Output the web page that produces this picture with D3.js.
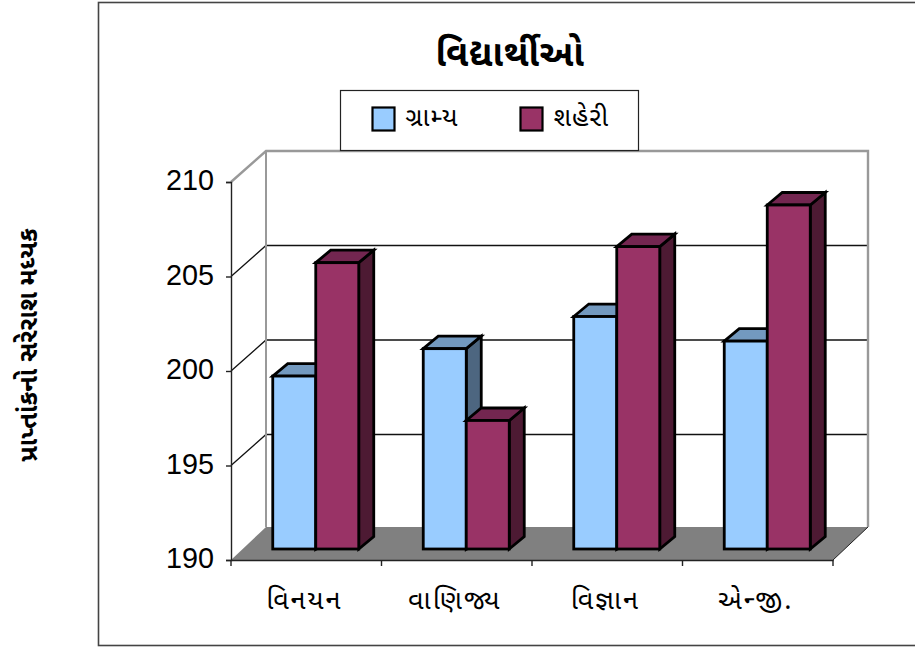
<!DOCTYPE html>
<html><head><meta charset="utf-8">
<script src="https://cdn.jsdelivr.net/npm/d3@7/dist/d3.min.js"></script>
<style>
html,body{margin:0;padding:0;background:#fff;overflow:hidden}
svg{display:block}
text{font-family:"Noto Sans Gujarati","Lohit Gujarati","Noto Sans","DejaVu Sans","Liberation Sans",sans-serif;fill:#000}
</style></head><body>
<svg id="c" width="915" height="647"></svg>
<script>
const titleText = "વિદ્યાર્થીઓ";
const yAxisTitle = "પ્રાપ્તાંકનો સરેરાશ મધ્યક";
const categories = ["વિનયન","વાણિજ્ય","વિજ્ઞાન","એન્જી."];
const seriesNames = ["ગ્રામ્ય","શહેરી"];
const gramyaValues = [199.15,200.6,202.3,201.0];
const shaheriValues = [205.15,196.8,206.0,208.2];
const yTicks = [190,195,200,205,210];
const seriesValues = [gramyaValues, shaheriValues];
const faceColors = [["#99ccff","#7399bf","#4d6680"],["#993366","#732650","#4d1a33"]];

const svg = d3.select("#c");
const x = d3.scaleBand().domain(categories).range([231,833]);
const y = d3.scaleLinear().domain([190,210]).range([560,182]);
const wall = {dx:35, dy:-33};
const barOff = {dx:9.5, dy:-11};
const barDepth = {dx:15, dy:-12.5};
const inner = d3.scaleBand().domain(d3.range(seriesNames.length)).range([-43,43]);
const poly = p => p.map(q=>q.join(",")).join(" ");

// chart frame
svg.append("rect").attr("x",98.5).attr("y",2.5).attr("width",830).attr("height",643)
  .attr("fill","#fff").attr("stroke","#444").attr("stroke-width",1.6);

const x0=x.range()[0], x1=x.range()[1], yB=y(190), yT=y(210);
// floor
svg.append("polygon").attr("points",poly([[x0,yB],[x1,yB],[x1+wall.dx,yB+wall.dy],[x0+wall.dx,yB+wall.dy]])).attr("fill","#808080");
// gridlines
yTicks.slice(1,-1).forEach(t=>{
  svg.append("polyline").attr("fill","none").attr("stroke","#111").attr("stroke-width",1.3)
    .attr("points",poly([[x0,y(t)],[x0+wall.dx,y(t)+wall.dy+2],[x1+wall.dx,y(t)+wall.dy+2]]));
});
// wall edges
svg.append("polyline").attr("fill","none").attr("stroke","#999").attr("stroke-width",2.4)
  .attr("points",poly([[x0,yT],[x0+wall.dx,yT+wall.dy+2],[x1+wall.dx,yT+wall.dy+2],[x1+wall.dx,yB+wall.dy]]));
svg.append("line").attr("x1",x0+wall.dx).attr("x2",x0+wall.dx).attr("y1",yT+wall.dy+2).attr("y2",yB+wall.dy).attr("stroke","#999").attr("stroke-width",2);
svg.append("line").attr("x1",x1).attr("x2",x1+wall.dx).attr("y1",yB).attr("y2",yB+wall.dy).attr("stroke","#222").attr("stroke-width",1);

// axes
const axY = d3.axisLeft(y).tickValues(yTicks).tickSize(5).tickPadding(12);
const gy = svg.append("g").attr("transform",`translate(${x0},0)`).call(axY);
gy.selectAll("path,line").attr("stroke","#222").attr("stroke-width",1.4);
gy.selectAll("text").style("font-family","'Liberation Sans',Arial,sans-serif").attr("font-size",30)
  .attr("dy","0.26em").attr("textLength",48).attr("lengthAdjust","spacingAndGlyphs");
const axX = d3.axisBottom(x).tickSize(0).tickPadding(30);
const gx = svg.append("g").attr("transform",`translate(0,${yB})`).call(axX);
gx.select("path").attr("stroke","#222").attr("stroke-width",1.4);
gx.selectAll("text").attr("font-size",27).attr("letter-spacing",2).attr("dx",-2);
svg.append("g").selectAll("line").data([...categories.map(c=>x(c)),x1]).join("line")
  .attr("x1",d=>d).attr("x2",d=>d).attr("y1",yB).attr("y2",yB+6).attr("stroke","#222").attr("stroke-width",1.4);

// bars
categories.forEach((c,i)=>{
  const cx = x(c)+x.bandwidth()/2+barOff.dx;
  seriesValues.forEach((vals,s)=>{
    const l=cx+inner(s), r=l+inner.bandwidth(), t=y(vals[i])+barOff.dy, b=y(190)+barOff.dy;
    const d=barDepth, g=svg.append("g").attr("stroke","#000").attr("stroke-width",2.8).attr("stroke-linejoin","miter");
    g.append("polygon").attr("points",poly([[r,t],[r+d.dx,t+d.dy],[r+d.dx,b+d.dy],[r,b]])).attr("fill",faceColors[s][2]);
    g.append("polygon").attr("points",poly([[l,t],[l+d.dx,t+d.dy],[r+d.dx,t+d.dy],[r,t]])).attr("fill",faceColors[s][1]);
    g.append("rect").attr("x",l).attr("y",t).attr("width",r-l).attr("height",b-t).attr("fill",faceColors[s][0]);
  });
});

// title
svg.append("text").attr("x",510).attr("y",66).attr("text-anchor","middle").attr("font-size",36).attr("font-weight",700).attr("letter-spacing",0.6).text(titleText);
// y title
svg.append("text").attr("transform","translate(37,345) rotate(-90)").attr("text-anchor","middle").attr("font-size",25.5).attr("font-weight",700).text(yAxisTitle);
// legend
svg.append("rect").attr("x",340.5).attr("y",90.5).attr("width",298).attr("height",60).attr("fill","#fff").attr("stroke","#222").attr("stroke-width",1.2);
const legX=d3.scalePoint().domain(seriesNames).range([372.5,520.5]);
seriesNames.forEach((n,s)=>{
  svg.append("rect").attr("x",legX(n)).attr("y",107.5).attr("width",22).attr("height",23).attr("fill",faceColors[s][0]).attr("stroke","#000").attr("stroke-width",2.2);
  svg.append("text").attr("x",legX(n)+33).attr("y",126).attr("font-size",26).attr("letter-spacing",1).text(n);
});
</script></body></html>
